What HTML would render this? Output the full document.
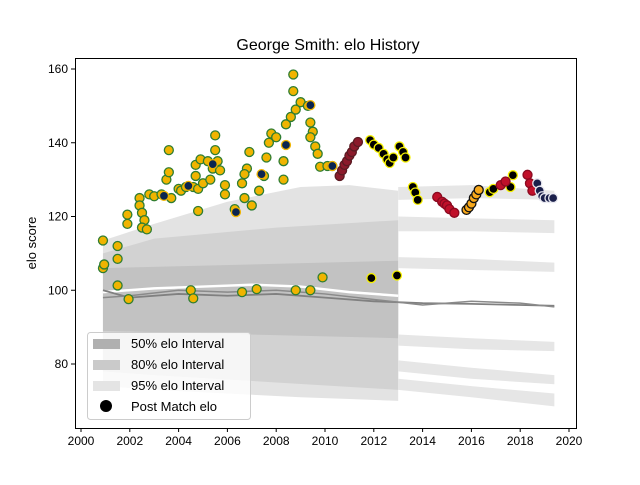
<!DOCTYPE html>
<html><head><meta charset="utf-8"><style>
body{margin:0;background:#fff}
svg text{font-family:"Liberation Sans","DejaVu Sans",sans-serif}
</style></head><body>
<svg id="chart" width="640" height="480" xmlns="http://www.w3.org/2000/svg">
<rect width="640" height="480" fill="#fff"/>
<text x="328" y="50" font-size="16" text-anchor="middle">George Smith: elo History</text>
<text transform="translate(36,243) rotate(-90)" font-size="13" text-anchor="middle">elo score</text>
<g id="bands"></g><g id="lines"></g><g id="points"></g><g id="axes"></g>
<g>
<rect x="87.5" y="332.5" width="163" height="87" rx="3" fill="#fff" fill-opacity="0.8" stroke="#ccc"/>
<rect x="93" y="339" width="27" height="10" fill="#b0b0b0"/>
<text x="131" y="348" font-size="13">50% elo Interval</text>
<rect x="93" y="360" width="27" height="10" fill="#cacaca"/>
<text x="131" y="369" font-size="13">80% elo Interval</text>
<rect x="93" y="381" width="27" height="10" fill="#e4e4e4"/>
<text x="131" y="390" font-size="13">95% elo Interval</text>
<circle cx="106" cy="406" r="6" fill="#000"/>
<text x="131" y="411" font-size="13">Post Match elo</text>
</g>
</svg>
<script>
const xTicks=[2000,2002,2004,2006,2008,2010,2012,2014,2016,2018,2020];
const yTicks=[80,100,120,140,160];
// bands (years, upper, lower)
const band95Years=[2000.9,2003,2006,2009,2011,2013];
const band95Upper=[113.5,118,124,128,128.5,127];
const band95Lower=[74,73,72,71,70.5,70];
const band80Years=[2000.9,2003,2008,2013];
const band80Upper=[110,114,117,119];
const band80Lower=[78,77,75,73];
const band50Years=[2000.9,2013];
const band50Upper=[106,108];
const band50Lower=[89,87];
const thinYears=[2013,2016,2019.4];
const thinA_up=[128,128.5,127],thinA_lo=[124.5,125,124.5];
const thinB_up=[120,119.5,119],thinB_lo=[116,116,115.5];
const thinC_up=[109,108.5,107.5],thinC_lo=[106,105.5,105];
const thinD_up=[88,87,86],thinD_lo=[85,84,83.5];
const thinE_up=[81,79,77],thinE_lo=[78,76,74.5];
const thinF_up=[76,74,72],thinF_lo=[73,71,68.5];
// lines
const meanYears=[2000.9,2003,2005,2007,2009,2011,2013];
const meanVals=[99.5,100.5,101,101.5,101,99.5,98.5];
const greyYears=[2000.9,2002,2004,2006,2008,2010,2012,2014,2016,2018,2019.4];
const greyVals=[100,98,99,98.5,99,98,97,96.5,96.3,96,95.8];
const grey2Vals=[98,98.5,100,99.5,100,99,97.5,96,97,96.5,95.5];
// points
const goldYears=[2000.9,2000.9,2000.95,2001.5,2001.5,2001.5,2001.9,2001.9,2001.95,2002.4,2002.4,2002.5,2002.6,2002.5,2002.7,2002.8,2003.0,2003.3,2003.5,2003.6,2003.6,2003.7,2004.0,2004.1,2004.3,2004.6,2004.7,2004.7,2004.8,2004.8,2004.9,2005.0,2005.2,2005.3,2005.4,2005.5,2005.5,2005.6,2005.7,2005.9,2005.9,2006.3,2006.6,2006.7,2006.8,2006.7,2006.9,2007.0,2007.3,2007.5,2007.6,2007.7,2007.8,2008.0,2008.3,2008.3,2008.4,2008.6,2008.7,2008.7,2008.8,2009.0,2009.3,2009.4,2009.5,2009.4,2009.6,2009.7,2009.8,2009.9,2009.4,2008.8,2007.2,2004.5,2004.6,2006.6,2010.1,2010.3];
const goldVals=[113.5,106,107,112,108.5,101.3,120.5,118,97.6,125,123,121,119,117,116.5,126,125.5,126,130,138,132,125,127.5,127,128,128,131,134,121.5,127.5,135.5,129,135,130,133,142,138,135,132.5,126,128.5,122,129,125,133,131.5,137.5,123,127,131,136,140,142.5,141.5,130,135,145,147,158.5,154,149,151,150,145.5,143,141.5,139,137,133.5,103.5,100,100,100.3,100,97.8,99.5,133.7,133.7];
const navyYears=[2003.4,2004.4,2005.4,2006.35,2007.4,2008.4,2009.4,2010.3];
const navyVals=[125.6,128.3,134.2,121.2,131.5,139.4,150.2,133.7];
const maroonYears=[2010.6,2010.7,2010.8,2010.9,2011.0,2011.1,2011.2,2011.35];
const maroonVals=[131,132.5,134,135,136.5,137.5,139,140.2];
const ybYears=[2011.85,2012.0,2012.2,2012.4,2012.55,2012.65,2012.8,2013.05,2013.2,2013.3,2013.6,2013.7,2013.8,2011.9,2012.95,2016.75,2016.9,2017.6,2017.7];
const ybVals=[140.7,139.5,138.6,137,135.5,134.5,136,139,137.5,136,128,126.5,124.5,103.3,104,126.6,127.5,128,131.2];
const crimYears=[2014.6,2014.8,2014.9,2015.0,2015.1,2015.3,2017.2,2017.4,2018.3,2018.4,2018.5];
const crimVals=[125.3,124,123.5,123,122,121,128.5,129.5,131.3,129,127];
const orangeYears=[2015.8,2015.9,2016.0,2016.1,2016.2,2016.3];
const orangeVals=[121.8,122.5,123.5,125,126,127.2];
const whiteYears=[2018.7,2018.8,2018.9,2019.0,2019.2,2019.35];
const whiteVals=[129,127,125.5,125,125,125];

const NS="http://www.w3.org/2000/svg";
const X0=75,X1=576,Y0=58,Y1=428;
const xs=y=>81+(y-2000)*24.4;
const ys=v=>69+(160-v)*3.6875;
function mk(t,p,a){const e=document.createElementNS(NS,t);for(const k in a)e.setAttribute(k,a[k]);p.appendChild(e);return e;}
const gB=document.getElementById('bands'),gL=document.getElementById('lines'),gP=document.getElementById('points'),gA=document.getElementById('axes');
function band(yr,up,lo,fill,name){
  let pts=yr.map((y,i)=>xs(y)+','+ys(up[i]));
  for(let i=yr.length-1;i>=0;i--)pts.push(xs(yr[i])+','+ys(lo[i]));
  const p=mk('polygon',gB,{points:pts.join(' '),fill:fill});
  
  
}
band(band95Years,band95Upper,band95Lower,'#e3e3e3','band-95');
band(band80Years,band80Upper,band80Lower,'#d2d2d2','band-80');
band(band50Years,band50Upper,band50Lower,'#c2c2c2','band-50');
[[thinA_up,thinA_lo],[thinB_up,thinB_lo],[thinC_up,thinC_lo],[thinD_up,thinD_lo],[thinE_up,thinE_lo],[thinF_up,thinF_lo]].forEach((b,i)=>band(thinYears,b[0],b[1],'#e6e6e6','band-tail-'+i));
function line(yr,v,col,w,name){
  const p=mk('polyline',gL,{points:yr.map((y,i)=>xs(y)+','+ys(v[i])).join(' '),fill:'none',stroke:col,'stroke-width':w});
  
  
}
line(meanYears,meanVals,'#fff',2.5,'mean-line');
line(greyYears,greyVals,'#808080',1.8,'expected-line');
line(greyYears,grey2Vals,'#8a8a8a',1.5,'expected-line-2');
function pts(yr,v,fill,stroke,name){
  yr.forEach((y,i)=>{
    const c=mk('circle',gP,{cx:xs(y),cy:ys(v[i]),r:4.5,fill:fill,stroke:stroke,'stroke-width':1.3});
    
    
  });
}
pts(goldYears,goldVals,'#f0b400','#2e7d32','point-gold');
pts(navyYears,navyVals,'#0b2550','#f0b400','point-navy');
pts(maroonYears,maroonVals,'#8b1a2b','#5a1a22','point-maroon');
pts(ybYears,ybVals,'#000','#f5f000','point-yellow-black');
pts(crimYears,crimVals,'#c0102a','#8a0a20','point-crimson');
pts(orangeYears,orangeVals,'#f7a81b','#111','point-orange');
pts(whiteYears,whiteVals,'#1a1f4a','#e8e8f0','point-navy-white');
// axes
const fr=mk('rect',gA,{x:X0+0.5,y:Y0+0.5,width:X1-X0,height:Y1-Y0,fill:'none',stroke:'#000','stroke-width':1});


xTicks.forEach(t=>{
  const x=xs(t);
  mk('line',gA,{x1:x,x2:x,y1:Y1+0.5,y2:Y1+4,stroke:'#000'});
  const tx=mk('text',gA,{x:x,y:Y1+17,'font-size':12,'text-anchor':'middle'});
  tx.textContent=t;
  
  
});
yTicks.forEach(t=>{
  const y=ys(t);
  mk('line',gA,{x1:X0-4,x2:X0+0.5,y1:y,y2:y,stroke:'#000'});
  const tx=mk('text',gA,{x:X0-7,y:y+4,'font-size':12,'text-anchor':'end'});
  tx.textContent=t;
  
  
});
</script>
</body></html>
